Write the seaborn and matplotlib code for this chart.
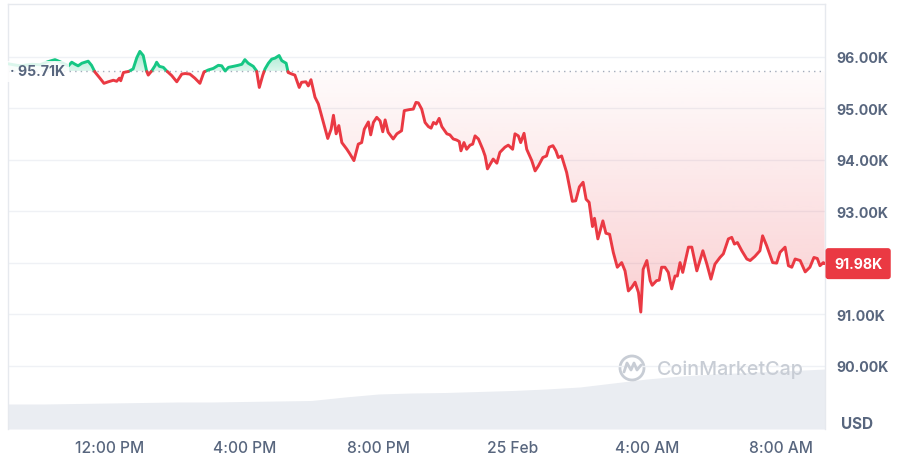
import numpy as np
import matplotlib
matplotlib.use("Agg")
import matplotlib.pyplot as plt
import seaborn as sns
from matplotlib.colors import to_rgb
from matplotlib.path import Path
from matplotlib.patches import PathPatch, Circle
from matplotlib.lines import Line2D
from matplotlib.transforms import blended_transform_factory, offset_copy, IdentityTransform

# BTC price, 24 Feb 09:00 -> 25 Feb 09:20 (hours counted from 24 Feb 00:00), price in K USD
hours = [8.96, 9.32, 9.68, 9.91, 10.15, 10.36, 10.51, 10.76, 10.86, 10.96, 11.05, 11.16, 11.35, 11.45, 11.55,
         11.70, 11.82, 11.95, 12.10, 12.20, 12.28, 12.32, 12.40, 12.55, 12.69, 12.80, 12.89, 12.99, 13.09, 13.14,
         13.24, 13.34, 13.39, 13.47, 13.59, 13.69, 13.84, 13.99, 14.14, 14.24, 14.38, 14.53, 14.68, 14.80, 14.93,
         15.08, 15.23, 15.33, 15.43, 15.53, 15.68, 15.82, 15.93, 16.02, 16.12, 16.27, 16.37, 16.45, 16.55, 16.62,
         16.72, 16.82, 16.92, 17.04, 17.12, 17.25, 17.31, 17.42, 17.51, 17.64, 17.71, 17.84, 17.91, 17.99, 18.11,
         18.21, 18.36, 18.49, 18.59, 18.66, 18.74, 18.82, 18.91, 19.06, 19.15, 19.27, 19.40, 19.50, 19.58, 19.70,
         19.77, 19.85, 19.95, 20.05, 20.13, 20.20, 20.29, 20.44, 20.55, 20.69, 20.77, 20.92,
         21.04, 21.12, 21.19, 21.29, 21.39, 21.49, 21.57, 21.64, 21.72, 21.81, 21.89, 22.04, 22.13, 22.23, 22.33,
         22.41, 22.46, 22.55, 22.63, 22.73, 22.81, 22.88, 22.98, 23.11, 23.18, 23.25, 23.33, 23.42, 23.53, 23.62,
         23.77, 23.87, 24.00, 24.07, 24.17, 24.24, 24.34, 24.42, 24.57, 24.67, 24.77, 24.90, 25.01, 25.09, 25.20,
         25.29, 25.36, 25.46, 25.61, 25.78, 25.88, 25.99, 26.10, 26.19, 26.28, 26.38, 26.44, 26.54, 26.69, 26.78,
         26.89, 27.00, 27.12, 27.25, 27.35, 27.45, 27.55, 27.65, 27.75, 27.82, 27.89, 28.00, 28.10, 28.16, 28.29,
         28.37, 28.44, 28.54, 28.64, 28.74, 28.84, 28.91, 28.99, 29.07, 29.24, 29.34, 29.49, 29.67, 29.79, 29.91,
         30.03, 30.18, 30.28, 30.43, 30.53, 30.61, 30.70, 30.83, 30.98, 31.08, 31.22, 31.37, 31.45, 31.57, 31.75,
         31.87, 31.97, 32.12, 32.22, 32.32, 32.42, 32.57, 32.72, 32.86, 32.98, 33.08, 33.16, 33.26, 33.30]
price = [95.86, 95.82, 95.85, 95.84, 95.90, 95.94, 95.90, 95.82, 95.89, 95.85, 95.82, 95.87, 95.91, 95.83, 95.70,
         95.58, 95.48, 95.51, 95.54, 95.52, 95.58, 95.53, 95.69, 95.71, 95.76, 95.98, 96.10, 96.02, 95.72, 95.64,
         95.72, 95.82, 95.89, 95.81, 95.79, 95.72, 95.63, 95.51, 95.66, 95.67, 95.66, 95.58, 95.48, 95.70, 95.74,
         95.77, 95.83, 95.82, 95.72, 95.79, 95.81, 95.83, 95.85, 95.94, 95.87, 95.81, 95.72, 95.40, 95.63, 95.76,
         95.87, 95.95, 95.97, 96.02, 95.92, 95.87, 95.69, 95.66, 95.64, 95.40, 95.50, 95.51, 95.43, 95.55, 95.21,
         95.08, 94.72, 94.41, 94.59, 94.86, 94.50, 94.66, 94.33, 94.20, 94.11, 93.98, 94.30, 94.33, 94.59, 94.73,
         94.48, 94.72, 94.82, 94.75, 94.54, 94.77, 94.53, 94.40, 94.50, 94.56, 94.95, 94.97,
         94.98, 95.11, 95.10, 94.98, 94.72, 94.64, 94.61, 94.72, 94.69, 94.80, 94.64, 94.50, 94.48, 94.40, 94.38,
         94.35, 94.17, 94.33, 94.20, 94.28, 94.30, 94.46, 94.40, 94.20, 94.07, 93.82, 93.91, 94.01, 93.93, 94.14,
         94.24, 94.28, 94.20, 94.50, 94.46, 94.33, 94.51, 94.20, 93.98, 93.78, 93.88, 94.04, 94.07, 94.24, 94.27,
         94.17, 94.04, 94.07, 93.75, 93.19, 93.20, 93.47, 93.56, 93.23, 93.17, 92.70, 92.86, 92.46, 92.81, 92.57,
         92.55, 92.20, 91.91, 92.00, 91.84, 91.45, 91.52, 91.62, 91.42, 91.04, 91.87, 92.04, 91.65, 91.56, 91.65,
         91.66, 91.91, 91.91, 91.81, 91.49, 91.74, 91.74, 92.00, 91.81, 92.30, 92.30, 91.84, 92.23, 91.97, 91.68,
         91.97, 92.10, 92.17, 92.46, 92.49, 92.36, 92.39, 92.23, 92.07, 92.04, 92.12, 92.23, 92.52, 92.33, 92.00,
         91.99, 92.20, 92.30, 91.94, 91.91, 92.07, 92.04, 91.82, 91.91, 92.10, 92.08, 91.94, 92.00, 91.98]

# 24h volume (B USD), sampled hourly
vol_hours = [8.96, 10, 11, 12, 13, 14, 15, 16, 17, 18, 19, 20, 21, 22, 23, 24, 25, 26, 27, 28, 29, 30, 31, 32, 33, 33.31]
volume = [25, 25, 25.5, 26, 26.5, 27, 27, 27.5, 28, 28.5, 32, 35, 36, 36.5, 37.5, 38.5, 40, 42, 46, 50, 53, 55,
          56.5, 58, 59.5, 60]

open_price = 95.71
last_price = 91.98
y_ticks = [90, 91, 92, 93, 94, 95, 96]
x_ticks = [12, 16, 20, 24, 28, 32]
x_labels = ["12:00 PM", "4:00 PM", "8:00 PM", "25 Feb", "4:00 AM", "8:00 AM"]

GREEN = "#16c784"
RED = "#ea3943"
GREY = "#58667e"

sns.set_theme(style="white")
plt.rcParams["font.family"] = ["Inter", "DejaVu Sans"]

fig = plt.figure(figsize=(9, 4.6), dpi=100)
ax = fig.add_axes([8 / 900, 30 / 460, 817 / 900, 425 / 460])

# volume in the background
ax2 = ax.twinx()
ax2.fill_between(vol_hours, volume, 0, color="#eaedf2", lw=0)
ax2.set_ylim(0, 425)
ax2.set_yticks([])
for s in ax2.spines.values():
    s.set_visible(False)
ax.set_zorder(ax2.get_zorder() + 1)
ax.patch.set_visible(False)

t = np.array(hours)
p = np.array(price)

# add the points where the line crosses the open price so colours switch cleanly
tt, pp = [t[0]], [p[0]]
for i in range(1, len(t)):
    a, b = p[i - 1] - open_price, p[i] - open_price
    if a * b < 0:
        f = a / (a - b)
        tt.append(t[i - 1] + f * (t[i] - t[i - 1]))
        pp.append(open_price)
    tt.append(t[i])
    pp.append(p[i])
tt, pp = np.array(tt), np.array(pp)


def gradient_fill(where, color, a_near, a_far, far):
    poly = ax.fill_between(tt, pp, open_price, where=where, interpolate=True,
                           facecolor="none", edgecolor="none")
    path = Path.make_compound_path(*poly.get_paths())
    clip = PathPatch(path, transform=ax.transData, facecolor="none", edgecolor="none")
    ax.add_patch(clip)
    rgba = np.zeros((256, 1, 4))
    rgba[:, 0, :3] = to_rgb(color)
    rgba[:, 0, 3] = np.linspace(a_near, a_far, 256)
    lo, hi = sorted([open_price, far])
    if far < open_price:
        rgba = rgba[::-1]
    im = ax.imshow(rgba, extent=[tt.min(), tt.max(), lo, hi], origin="lower",
                   aspect="auto", zorder=1, interpolation="bilinear")
    im.set_clip_path(clip)


gradient_fill(pp >= open_price, GREEN, 0.15, 0.42, 96.12)
gradient_fill(pp <= open_price, RED, 0.02, 0.24, 91.0)


def runs(mask):
    idx = np.flatnonzero(mask)
    return np.split(idx, np.flatnonzero(np.diff(idx) > 1) + 1)


for mask, col in [(pp >= open_price, GREEN), (pp <= open_price, RED)]:
    for r in runs(mask):
        if len(r) > 1:
            sns.lineplot(x=tt[r], y=pp[r], ax=ax, color=col, lw=2.1, sort=False,
                         estimator=None, zorder=3, solid_joinstyle="round")

ax.axhline(open_price, color="#a3acbb", lw=1, ls=(0, (1, 3)), zorder=2)

ax.set_xlim(8.96, 33.31)
ax.set_ylim(88.77, 97.02)
ax.set_xlabel("")
ax.set_ylabel("")

ax.set_yticks(y_ticks)
ax.set_yticklabels(["" if v == 92 else f"{v:.2f}K" for v in y_ticks])
ax.yaxis.tick_right()
ax.tick_params(axis="y", length=0, pad=8, labelsize=10.2, labelcolor=GREY)
for lab in ax.get_yticklabels():
    lab.set_fontweight("bold")
ax.set_xticks(x_ticks)
ax.set_xticklabels(x_labels)
ax.tick_params(axis="x", length=0, pad=8, labelsize=11.2, labelcolor=GREY)
for lab in ax.get_xticklabels():
    lab.set_fontweight("medium")

ax.yaxis.grid(True, color="#eff1f5", lw=1)
ax.xaxis.grid(False)
for name, s in ax.spines.items():
    s.set_color("#e6e9ee")
    s.set_linewidth(1)
ax.spines["bottom"].set_visible(False)

# open price marker on the left
ax.text(0.003, open_price, "\u00b7 95.71K", transform=blended_transform_factory(ax.transAxes, ax.transData),
        ha="left", va="center", fontsize=10.2, fontweight="bold", color=GREY, zorder=5,
        bbox=dict(boxstyle="square,pad=0.25", fc="white", ec="none", alpha=0.85))

# last price tag on the right
tag_tr = offset_copy(blended_transform_factory(ax.transAxes, ax.transData), fig=fig, x=9, y=0, units="dots")
ax.text(1.0, last_price, "91.98K", transform=tag_tr, ha="left", va="center", fontsize=10.2,
        fontweight="bold", color="white", zorder=10, clip_on=False,
        bbox=dict(boxstyle="round,pad=0.6,rounding_size=0.2", fc=RED, ec="none"))

fig.text(857 / 900, 1 - 425 / 460, "USD", ha="center", va="center", fontsize=11,
         fontweight="bold", color=GREY)

# watermark
wm = "#c8cdd5"
fig.add_artist(Circle((632, 460 - 369), 12, transform=IdentityTransform(), fill=False, ec=wm, lw=2))
fig.add_artist(Line2D([624, 627, 631, 634, 637, 641], [460 - 373, 460 - 364, 460 - 371, 460 - 364, 460 - 371, 460 - 366],
                      transform=IdentityTransform(), color=wm, lw=2))
fig.text(657 / 900, 1 - 370 / 460, "CoinMarketCap", ha="left", va="center", fontsize=14.2,
         fontweight="medium", color=wm)

fig.savefig("out.png", dpi=100, facecolor="white")
